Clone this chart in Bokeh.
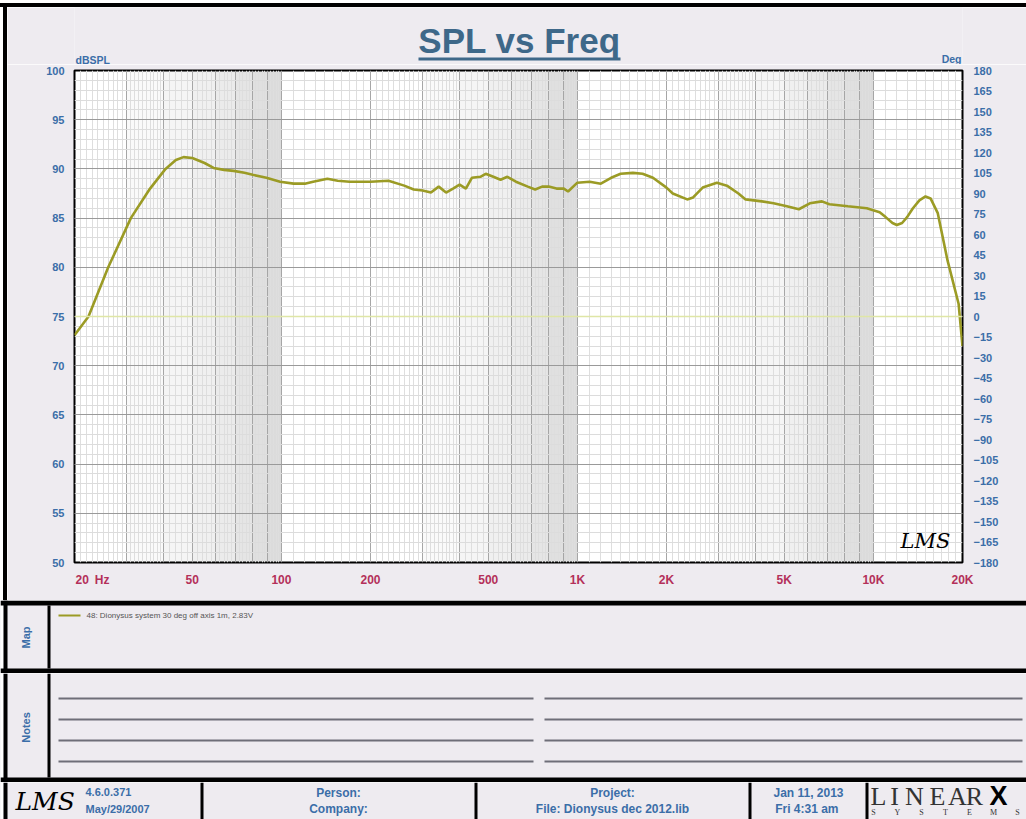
import math
from bokeh.plotting import figure
from bokeh.models import Range1d, LinearAxis, FixedTicker, Span, Label, Spacer
from bokeh.layouts import column, row
from bokeh.embed import file_html
from bokeh.resources import INLINE
from bokeh.core.properties import value

# ---------------- data ----------------
freq_hz = [20, 22.3, 26, 31, 36, 40.6, 44, 46.7, 50, 55, 59, 64, 69, 75, 80, 89, 99,
           110, 120, 128, 143, 155, 170, 185, 200, 230, 260, 280, 300, 320, 340, 360,
           380, 400, 420, 440, 470, 490, 520, 550, 580, 620, 680, 720, 760, 800, 850,
           900, 930, 1000, 1100, 1200, 1300, 1400, 1540, 1660, 1800, 2000, 2100, 2350,
           2460, 2650, 2960, 3200, 3500, 3700, 4200, 4600, 5100, 5600, 6100, 6700,
           7100, 8200, 9500, 10500, 11000, 11600, 12000, 12500, 13000, 13600, 14300,
           15000, 15600, 16500, 17800, 19400, 20000]
spl_db = [73.1, 75.0, 80.0, 85.0, 88.0, 90.0, 90.9, 91.2, 91.1, 90.6, 90.1, 89.9, 89.8,
          89.6, 89.4, 89.1, 88.7, 88.5, 88.5, 88.7, 89.0, 88.8, 88.7, 88.7, 88.7, 88.8,
          88.3, 87.9, 87.8, 87.6, 88.2, 87.6, 88.0, 88.4, 88.0, 89.1, 89.2, 89.5, 89.2,
          88.9, 89.2, 88.7, 88.2, 87.9, 88.2, 88.2, 88.0, 88.0, 87.7, 88.6, 88.7, 88.5,
          89.1, 89.5, 89.6, 89.5, 89.1, 88.1, 87.5, 86.9, 87.1, 88.1, 88.6, 88.3, 87.5,
          86.9, 86.7, 86.5, 86.2, 85.9, 86.5, 86.7, 86.4, 86.2, 86.0, 85.6, 85.1, 84.5,
          84.3, 84.5, 85.1, 86.0, 86.8, 87.2, 87.0, 85.5, 80.7, 76.3, 72.0]
x_tick_values = [20, 50, 100, 200, 500, 1000, 2000, 5000, 10000, 20000]
x_tick_labels = ["20  Hz", "50", "100", "200", "500", "1K", "2K", "5K", "10K", "20K"]
spl_ticks = list(range(50, 101, 5))
deg_ticks = list(range(-180, 181, 15))
legend_text = "48: Dionysus system 30 deg off axis 1m, 2.83V"
notes_rows = 4

# ---------------- styles ----------------
BG = "#eeebf0"
TITLE_C = "#3e6889"
BLUE = "#3b6ea8"
RED = "#b4305a"
CURVE = "#9b9b25"
FONT = "Liberation Sans"
W = 1026


def deco_fig(w, h, x0, x1, y0, y1, **kw):
    f = figure(width=w, height=h, x_range=Range1d(x0, x1), y_range=Range1d(y1, y0),
               output_backend="svg", toolbar_location=None, **kw)
    f.axis.visible = False
    f.grid.visible = False
    f.outline_line_color = None
    f.background_fill_color = BG
    f.border_fill_color = BG
    return f


def txt(f, x, y, s, size="12px", color=BLUE, align="left", baseline="middle",
        style="bold", font=FONT, angle=0.0):
    f.text(x=[x], y=[y], text=[s], text_font=value(font), text_font_size=value(size),
           text_font_style=style, text_color=color, text_align=align,
           text_baseline=baseline, angle=angle)


def left_edge(f, y0, y1):
    f.quad(left=[0], right=[3], top=[y0], bottom=[y1], fill_color="white", line_color=None)
    f.quad(left=[3], right=[7], top=[y0], bottom=[y1], fill_color="black", line_color=None)


# ---------------- top (title) : page coords x 74..962, y 7..64 ----------------
top = deco_fig(1019, 57, 74, 962, 7, 64, min_border_left=67, min_border_right=64,
               min_border_top=0, min_border_bottom=0)
txt(top, 519, 40, "SPL vs Freq", size="35px", color=TITLE_C, align="center")
top.line(x=[418, 620], y=[58.5, 58.5], line_color=TITLE_C, line_width=3)
txt(top, 75, 59, "dBSPL", size="10.5px")
txt(top, 961, 58.5, "Deg", size="10.5px", align="right")

# ---------------- chart ----------------
p = figure(width=1019, height=536, x_axis_type="log",
           x_range=Range1d(20, 20000), y_range=Range1d(50, 100),
           output_backend="svg", toolbar_location=None,
           min_border_left=67, min_border_right=64, min_border_top=6,
           min_border_bottom=38)
p.extra_y_ranges = {"deg": Range1d(-180, 180)}
p.background_fill_color = "white"
p.border_fill_color = BG
p.outline_line_color = "black"
p.outline_line_width = 2

decades = (10, 100, 1000, 10000)
xmajor = [m * d for d in decades for m in range(1, 10) if 20 <= m * d <= 20000]
xminor = []
for d in decades:
    for k in range(10, 100):
        step_ok = (k % 10 != 0) and (k < 40 or k % 2 == 0)
        v = d * k / 10
        if step_ok and 20 <= v <= 20000:
            xminor.append(v)
p.xgrid.ticker = FixedTicker(ticks=xmajor, minor_ticks=xminor)
p.xgrid.grid_line_color = "#a6a6a6"
p.xgrid.minor_grid_line_color = "#dedede"
p.ygrid.ticker = FixedTicker(ticks=spl_ticks, minor_ticks=list(range(50, 101)))
p.ygrid.grid_line_color = "#9a9a9a"
p.ygrid.minor_grid_line_color = "#dcdcdc"

# progressive shading within each decade (log-paper style)
band_l, band_r, band_a = [], [], []
for d in decades:
    for k in range(3, 10):
        if d * k >= 20 and d * (k + 1) <= 20000:
            band_l.append(d * k)
            band_r.append(d * (k + 1))
            band_a.append(0.02 * (k - 2))
p.quad(left=band_l, right=band_r, bottom=50, top=100, fill_color="black",
       fill_alpha=band_a, line_color=None, level="underlay")

p.add_layout(Span(location=75, dimension="width", line_color="#dfe6a6", line_width=1.5))

p.line(freq_hz, spl_db, line_color=CURVE, line_width=2.6)

xa = p.xaxis[0]
xa.ticker = FixedTicker(ticks=x_tick_values)
labels = list(x_tick_labels)
labels[0] = "\u2002" * 6 + labels[0].replace("  ", "\u2002")
xa.major_label_overrides = {v: s for v, s in zip(x_tick_values, labels)}
ya = p.yaxis[0]
ya.ticker = FixedTicker(ticks=spl_ticks)
ra = LinearAxis(y_range_name="deg", ticker=FixedTicker(ticks=deg_ticks))
p.add_layout(ra, "right")
for ax, col in ((xa, RED), (ya, BLUE), (ra, BLUE)):
    ax.axis_line_color = None
    ax.major_tick_line_color = None
    ax.minor_tick_line_color = None
    ax.major_label_text_font = FONT
    ax.major_label_text_font_style = "bold"
    ax.major_label_text_color = col
    ax.major_label_text_font_size = "11px"
    ax.major_label_standoff = 4
xa.major_label_text_font_size = "12px"
ra.major_label_standoff = 5

p.add_layout(Label(x=15000, y=52.2, text="LMS", text_font="DejaVu Serif",
                   text_font_style="italic", text_font_size="21px", text_color="black",
                   text_align="center", text_baseline="middle"))

white_strip = Spacer(width=3, height=593)
black_strip = Spacer(width=4, height=593, styles={"background-color": "black"})
chart_panel = row(white_strip, black_strip, column(top, p))
top_white = Spacer(width=W, height=3)
top_black = Spacer(width=W, height=4, styles={"background-color": "black"})

# ---------------- map : page y 600..673 ----------------
mp = deco_fig(W, 73, 0, W, 600, 673, min_border=0)
left_edge(mp, 600, 673)
mp.quad(left=[0, 0, 47], right=[W, W, 50], top=[600, 668, 605], bottom=[605, 673, 668],
        fill_color="black", line_color=None)
txt(mp, 25, 637, "Map", size="11px", align="center", angle=math.pi / 2)
mp.line(x=[58, 80], y=[615, 615], line_color=CURVE, line_width=2)
txt(mp, 86, 615, legend_text, size="8px", color="#555555", style="normal")

# ---------------- notes : page y 673..782 ----------------
nt = deco_fig(W, 109, 0, W, 673, 782, min_border=0)
left_edge(nt, 673, 782)
nt.quad(left=[0, 47], right=[W, 50], top=[777, 673], bottom=[782, 777],
        fill_color="black", line_color=None)
txt(nt, 25, 727, "Notes", size="11px", align="center", angle=math.pi / 2)
ys = [698 + 21 * i for i in range(notes_rows)]
nt.multi_line(xs=[[58, 533]] * notes_rows + [[544, 1022]] * notes_rows,
              ys=[[y, y] for y in ys] * 2, line_color="#6e6e78", line_width=2)

# ---------------- footer : page y 782..819 ----------------
ft = deco_fig(W, 37, 0, W, 782, 819, min_border=0)
left_edge(ft, 782, 819)
ft.quad(left=[200, 474, 748, 865], right=[203, 477, 751, 868],
        top=[782] * 4, bottom=[819] * 4, fill_color="black", line_color=None)
txt(ft, 15, 801, "LMS", size="25px", color="black", style="italic", font="DejaVu Serif")
txt(ft, 85, 791, "4.6.0.371", size="11px")
txt(ft, 85, 808, "May/29/2007", size="11px")
txt(ft, 338, 792, "Person:", align="center")
txt(ft, 338, 808, "Company:", align="center")
txt(ft, 612, 792, "Project:", align="center")
txt(ft, 612, 808, "File: Dionysus dec 2012.lib", align="center")
txt(ft, 808, 792, "Jan 11, 2013", align="center")
txt(ft, 808, 808, "Fri  4:31 am", align="center")
big = ["L", "I", "N", "E", "A", "R"]
bigx = [878, 894, 914, 937, 957, 974]
for ch, x in zip(big, bigx):
    txt(ft, x, 796, ch, size="26px", color="#333333", align="center", style="normal",
        font="Liberation Serif")
txt(ft, 998, 795, "X", size="27px", color="black", align="center", style="bold",
    font="Liberation Sans")
small = ["S", "Y", "S", "T", "E", "M", "S"]
for i, ch in enumerate(small):
    txt(ft, 873 + 24 * i, 812, ch, size="8px", color="#333333", align="center",
        style="normal", font="Liberation Serif")

layout = column(top_white, top_black, chart_panel, mp, nt, ft)

open("out.html", "w").write(file_html(layout, INLINE))
